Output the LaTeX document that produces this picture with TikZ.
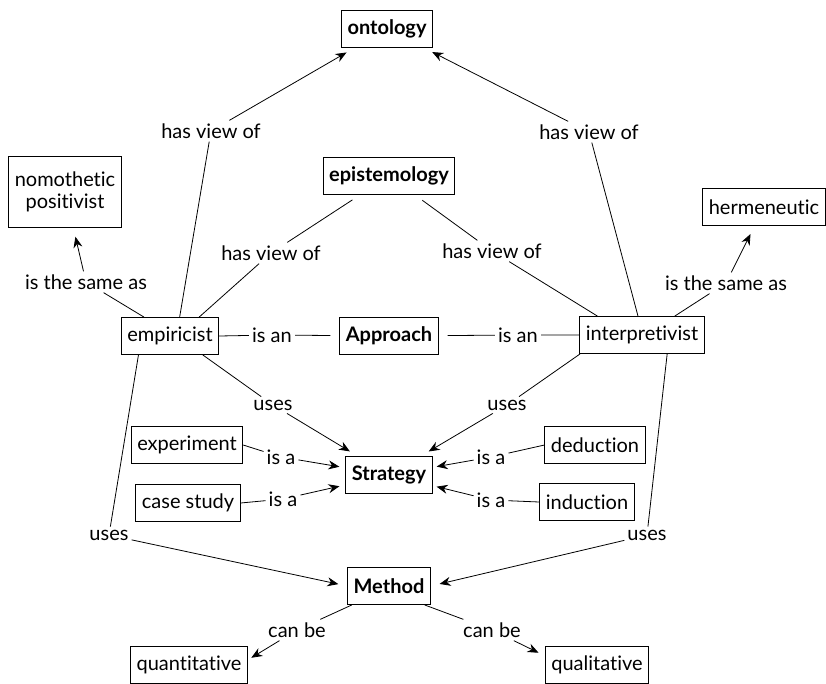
\documentclass[tikz,border=0pt]{standalone}
\usepackage{fontspec}
\setmainfont[Ligatures=NoCommon]{Lato}
\usetikzlibrary{arrows.meta,calc}

\begin{document}
\begin{tikzpicture}[x=1pt,y=-1pt,>={Stealth[length=11pt,width=9pt]},
  every node/.style={font=\fontsize{20}{22}\selectfont},
  box/.style={draw,line width=0.9pt,inner xsep=6pt,minimum height=37pt,align=center},
  key/.style={box,font=\fontsize{20}{22}\selectfont\bfseries},
  lbl/.style={inner sep=3pt},
  link/.style={line width=0.8pt,shorten >=9pt}]
  \useasboundingbox (0,0) rectangle (826,683);
  % concepts
  \node[key] (onto) at (387,29) {ontology};
  \node[key] (epis) at (389,176) {epistemology};
  \node[box,minimum height=71pt] (nomo) at (65,192) {nomothetic\\positivist};
  \node[box] (herm) at (764,207) {hermeneutic};
  \node[box] (emp) at (170,336) {empiricist};
  \node[key] (appr) at (389,336) {Approach};
  \node[box] (interp) at (642,335) {interpretivist};
  \node[box] (expt) at (187,445) {experiment};
  \node[box] (cases) at (188,503) {case study};
  \node[key] (strat) at (389,475) {Strategy};
  \node[box] (dedu) at (595,445) {deduction};
  \node[box] (indu) at (587,502) {induction};
  \node[key] (meth) at (389,586) {Method};
  \node[box] (quant) at (189,665) {quantitative};
  \node[box] (qual) at (597,665) {qualitative};
  % link labels
  \node[lbl] (hvoA) at (211,131) {has view of};
  \node[lbl] (hvoB) at (589,132) {has view of};
  \node[lbl] (hvoC) at (271,253) {has view of};
  \node[lbl] (hvoD) at (492,251) {has view of};
  \node[lbl] (sameA) at (86,282) {is the same as};
  \node[lbl] (sameB) at (726,283) {is the same as};
  \node[lbl] (isanA) at (272,335) {is an};
  \node[lbl] (isanB) at (518,335) {is an};
  \node[lbl] (usesA) at (273,405) {uses};
  \node[lbl] (usesB) at (507,405) {uses};
  \node[lbl] (isaA) at (281,457) {is a};
  \node[lbl] (isaB) at (283,499) {is a};
  \node[lbl] (isaC) at (491,457) {is a};
  \node[lbl] (isaD) at (491,500) {is a};
  \node[lbl] (usesC) at (109,535) {uses};
  \node[lbl] (usesD) at (647,535) {uses};
  \node[lbl] (canA) at (297,630) {can be};
  \node[lbl] (canB) at (492,630) {can be};
  % links
  \draw[link,->] (emp.63) -- (hvoA) -- (onto);
  \draw[link,->] (interp.102) -- (hvoB) -- (onto);
  \draw[link] (emp.33) -- (hvoC) -- (epis);
  \draw[link] (interp.157) -- (hvoD) -- (epis);
  \draw[link,->] (emp.144) -- (sameA) -- (nomo);
  \draw[link,->] (interp.30) -- (sameB) -- (herm);
  \draw[link] (emp.east) -- (isanA) -- (appr);
  \draw[link] (interp.west) -- (isanB) -- (appr);
  \draw[link,->] (emp.-30) -- (usesA) -- (strat);
  \draw[link,->] (interp.197) -- (usesB) -- (strat);
  \draw[link,->,shorten >=6pt] (expt.east) -- (isaA) -- (strat);
  \draw[link,->,shorten >=6pt] (cases.east) -- (isaB) -- (strat);
  \draw[link,->,shorten >=4pt] (dedu.west) -- (isaC) -- (strat);
  \draw[link,->,shorten >=4pt] (indu.west) -- (isaD) -- (strat);
  \draw[link,->] (emp.211) -- (usesC) -- (meth.west);
  \draw[link,->] (interp.323) -- (usesD) -- (meth.east);
  \draw[link,->,shorten >=4pt] (meth.207) -- (canA) -- (quant.5);
  \draw[link,->,shorten >=7pt] (meth.332) -- (canB) -- (qual.170);
\end{tikzpicture}
\end{document}
